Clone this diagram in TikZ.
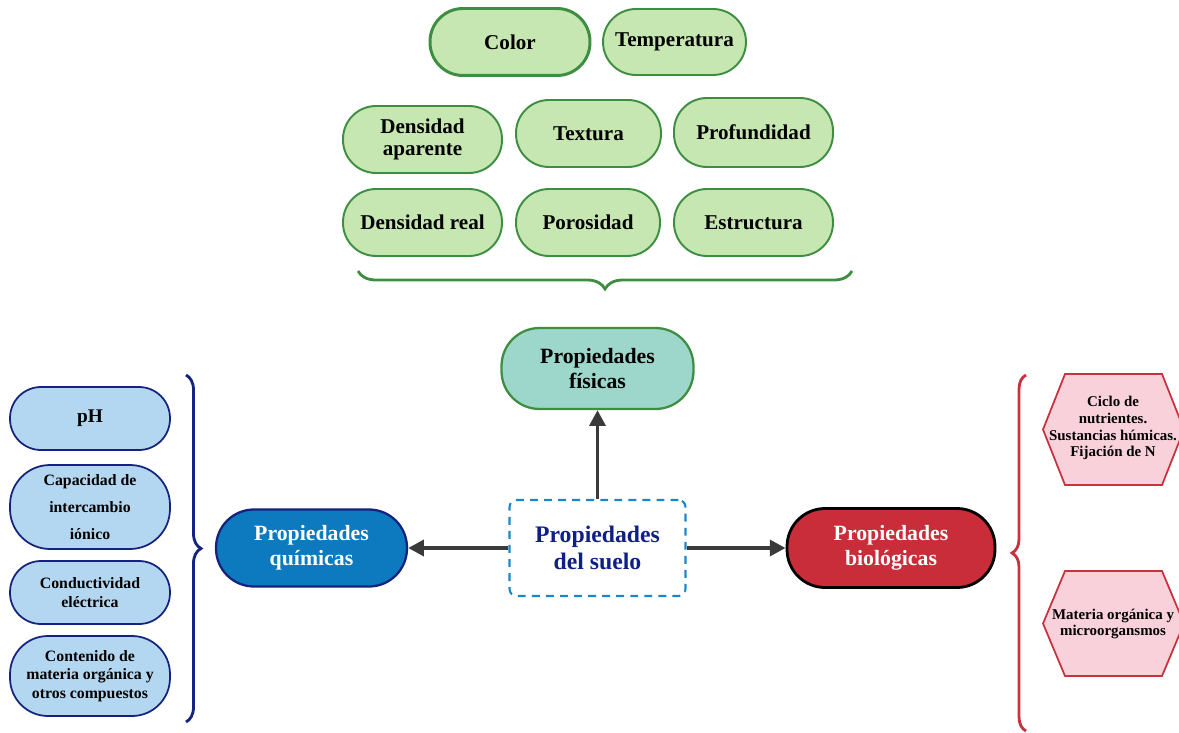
\documentclass[tikz,border=0pt]{standalone}
\usepackage{fontspec}
\setmainfont{Liberation Serif}
\usetikzlibrary{math,arrows.meta,decorations.pathreplacing}

\definecolor{verdeborde}{HTML}{3E8E41}
\definecolor{verdefondo}{HTML}{C6E7B1}
\definecolor{tealfondo}{HTML}{9DD6CA}
\definecolor{azulborde}{HTML}{13237E}
\definecolor{azulfondo}{HTML}{B4D7F1}
\definecolor{azulquim}{HTML}{0D7ABF}
\definecolor{rojobio}{HTML}{C92D3A}
\definecolor{rosafondo}{HTML}{F9D1DB}
\definecolor{rojoborde}{HTML}{C8313E}
\definecolor{azulguion}{HTML}{1B87C9}
\definecolor{azultexto}{HTML}{101F86}
\definecolor{flecha}{HTML}{3A3A3A}

\begin{document}
\begin{tikzpicture}[x=0.02cm, y=-0.02cm,
    fis/.style={draw=verdeborde, fill=verdefondo, line width=1.1pt, rounded corners=0.66cm, minimum height=1.34cm, align=center, font=\bfseries\fontsize{12}{12.5}\selectfont},
    quim/.style={draw=azulborde, fill=azulfondo, line width=1pt, rounded corners=0.62cm, minimum width=3.2cm, align=center, font=\bfseries\fontsize{9}{10.6}\selectfont},
    prop/.style={rounded corners=0.76cm, align=center, line width=1.3pt, font=\bfseries\fontsize{12.4}{14}\selectfont},
    hexa/.style={draw=rojoborde, fill=rosafondo, line width=1pt},
    llave/.style={decorate, decoration={brace, amplitude=#1}, line width=1.6pt},
    flechita/.style={-{Triangle[length=9pt, width=9pt]}, draw=flecha, line width=2.2pt}]
    \tikzmath{\hxa = 1043; \hxb = 1065; \hxc = 1162; \hxd = 1184;}
    \useasboundingbox (0,0) rectangle (1179,733);

    % propiedades fisicas
    \node[fis, minimum width=3.2cm, line width=1.7pt] (color) at (510,42) {Color};
    \node[fis, minimum width=2.86cm, minimum height=1.32cm] (temp) at (674.5,42) {Temperatura};
    \node[fis, minimum width=3.18cm] (dapar) at (422.5,139.5) {Densidad\\aparente};
    \node[fis, minimum width=2.9cm] (textura) at (588.5,133.5) {Textura};
    \node[fis, minimum width=3.18cm, minimum height=1.38cm] (prof) at (753.5,132.5) {Profundidad};
    \node[fis, minimum width=3.18cm] (dreal) at (422.5,222.5) {Densidad real};
    \node[fis, minimum width=2.88cm] (poro) at (588,222.5) {Porosidad};
    \node[fis, minimum width=3.18cm] (estr) at (753.5,222.5) {Estructura};
    \draw[llave=0.36cm, draw=verdeborde] (852,271) -- (358,271);

    % centro
    \node[prop, draw=verdeborde, fill=tealfondo, minimum width=3.84cm, minimum height=1.62cm] (pfis) at (597.5,368.5) {Propiedades\\físicas};
    \node[draw=azulguion, dash pattern=on 4.5pt off 3.5pt, rounded corners=4pt, line width=1.2pt, minimum width=3.52cm, minimum height=1.92cm, align=center, text=azultexto, font=\bfseries\fontsize{13.5}{15}\selectfont] (suelo) at (597.5,548) {Propiedades\\del suelo};
    \node[prop, draw=azulborde, fill=azulquim, text=white, minimum width=3.82cm, minimum height=1.54cm] (pquim) at (311.5,548) {Propiedades\\químicas};
    \node[prop, draw=black, fill=rojobio, text=white, line width=1.6pt, minimum width=4.16cm, minimum height=1.58cm] (pbio) at (891,548) {Propiedades\\biológicas};

    \draw[flechita] (suelo.north) -- (pfis.south);
    \draw[flechita] (suelo.west) -- (pquim.east);
    \draw[flechita] (suelo.east) -- (pbio.west);

    % propiedades quimicas
    \node[quim, minimum height=1.26cm, font=\bfseries\fontsize{11}{12}\selectfont] (ph) at (90,418.5) {pH};
    \node[quim, minimum height=1.68cm, rounded corners=0.8cm, font=\bfseries\fontsize{9}{15.4}\selectfont] (cic) at (90,507) {Capacidad de\\intercambio\\iónico};
    \node[quim, minimum height=1.26cm] (ce) at (90,592.5) {Conductividad\\eléctrica};
    \node[quim, minimum height=1.6cm, rounded corners=0.76cm] (mo) at (90,676) {Contenido de\\materia orgánica y\\otros compuestos};
    \draw[llave=0.3cm, draw=azulborde] (186,375) -- (186,722);

    % propiedades biologicas
    \foreach \cy/\hh in {429.5/55.5, 623.5/52.5}
        \draw[hexa] (\hxa,\cy) -- (\hxb,\cy-\hh) -- (\hxc,\cy-\hh) -- (\hxd,\cy) -- (\hxc,\cy+\hh) -- (\hxb,\cy+\hh) -- cycle;
    \node[align=center, font=\bfseries\fontsize{8.5}{9.6}\selectfont] (ciclo) at (1113,428) {Ciclo de\\nutrientes.\\Sustancias húmicas.\\Fijación de N};
    \node[align=center, font=\bfseries\fontsize{8.5}{9.6}\selectfont] (micro) at (1113,624) {Materia orgánica y\\microorgansmos};
    \draw[llave=0.28cm, draw=rojoborde] (1026,731) -- (1026,375);
\end{tikzpicture}
\end{document}
